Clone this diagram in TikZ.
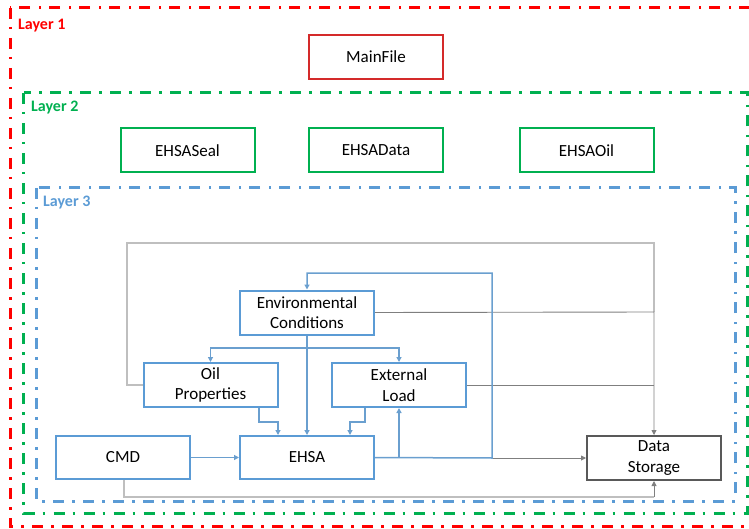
\documentclass[tikz,border=0pt]{standalone}
\usepackage{fontspec}
\setmainfont{Carlito}
\usetikzlibrary{arrows.meta}
\definecolor{lred}{HTML}{FF0000}
\definecolor{bred}{HTML}{D42A2A}
\definecolor{lgreen}{HTML}{00B050}
\definecolor{lblue}{HTML}{5B9BD5}
\definecolor{bblue}{HTML}{6A9FCF}
\definecolor{dgray}{HTML}{595959}
\definecolor{mgray}{HTML}{7F7F7F}
\definecolor{lgray}{HTML}{BFBFBF}
\tikzset{
  frame/.style={line width=3pt, dash pattern=on 11pt off 8pt on 2.5pt off 8.5pt},
  box/.style={draw, line width=2pt, minimum width=134pt, minimum height=44pt,
     inner sep=0pt, align=center, font=\fontsize{17}{20.5}\selectfont, text=black},
  layerlbl/.style={anchor=west, font=\fontsize{16}{18}\selectfont\bfseries, inner sep=0pt},
  bl/.style={draw=bblue, line width=1.5pt},
  gr/.style={draw=mgray, line width=0.9pt},
  lg/.style={draw=lgray, line width=1.2pt},
  tipb/.style={-{Triangle[length=5pt,width=5pt]}},
}
\begin{document}
\begin{tikzpicture}[x=1pt,y=-1pt]
\useasboundingbox (0,0) rectangle (749,529);
% frames
\draw[frame, lred] (10,8) rectangle (762,526);
\draw[frame, lgreen] (23.5,93) rectangle (747,513);
\draw[frame, lblue] (36,188) rectangle (735,501);
\node[layerlbl, text=lred] (l1) at (18,26) {Layer 1};
\node[layerlbl, text=lgreen] (l2) at (31,108) {Layer 2};
\node[layerlbl, text=lblue] (l3) at (43,203) {Layer 3};
% layer 1 and 2 boxes
\node[box, draw=bred] (main) at (376,57) {MainFile};
\node[box, draw=lgreen] (seal) at (187.5,150.5) {EHSASeal};
\node[box, draw=lgreen] (data) at (376,150.5) {EHSAData};
\node[box, draw=lgreen] (oilf) at (586.5,150.5) {EHSAOil};
% layer 3 boxes
\node[box, draw=lblue] (env) at (307,312.5) {Environmental\\Conditions};
\node[box, draw=lblue] (oil) at (210.5,385) {Oil\\Properties};
\node[box, draw=lblue] (ext) at (399,385) {External\\Load};
\node[box, draw=lblue, minimum height=43pt] (cmd) at (123,457.5) {CMD};
\node[box, draw=lblue, minimum height=43pt] (ehsa) at (307,457.5) {EHSA};
\node[box, draw=dgray] (ds) at (654,458) {Data\\Storage};
% junction coordinates
\coordinate (j1) at (307,348);
\coordinate (o1) at (259,422);
\coordinate (o2) at (278,422);
\coordinate (e1) at (365,422);
\coordinate (e2) at (350,422);
\coordinate (r1) at (492,458);
\coordinate (r2) at (492,273);
\coordinate (g1) at (127,243);
\coordinate (g2) at (654,243);
\coordinate (c1) at (124,497);
% gray connectors
\draw[lg] (oil.west) -| (g1) -- (g2) -- (654,312);
\draw[gr, tipb] (env.east) -- (654,312) -- (ds.north);
\draw[gr] (ext.east) -- (654,385);
\draw[gr, tipb] (r1) -- (ds.west);
\draw[lg] (cmd.south -| c1) -- (c1) -- (654,497);
\draw[gr, tipb] (654,497) -- (ds.south);
% blue connectors
\draw[bl, tipb] (j1) -| (oil.north);
\draw[bl, tipb] (j1) -| (ext.north);
\draw[bl, tipb] (env.south) -- (ehsa.north);
\draw[bl, tipb] (oil.south -| o1) -- (o1) -- (o2) -- (o2 |- ehsa.north);
\draw[bl, tipb] (ext.south -| e1) -- (e1) -- (e2) -- (e2 |- ehsa.north);
\draw[bl, tipb] (cmd.east) -- (ehsa.west);
\draw[bl, tipb] (ehsa.east) -- (r1) -- (r2) -| (env.north);
\draw[bl, tipb] (ehsa.east -| ext.south) -- (ext.south);
\end{tikzpicture}
\end{document}
